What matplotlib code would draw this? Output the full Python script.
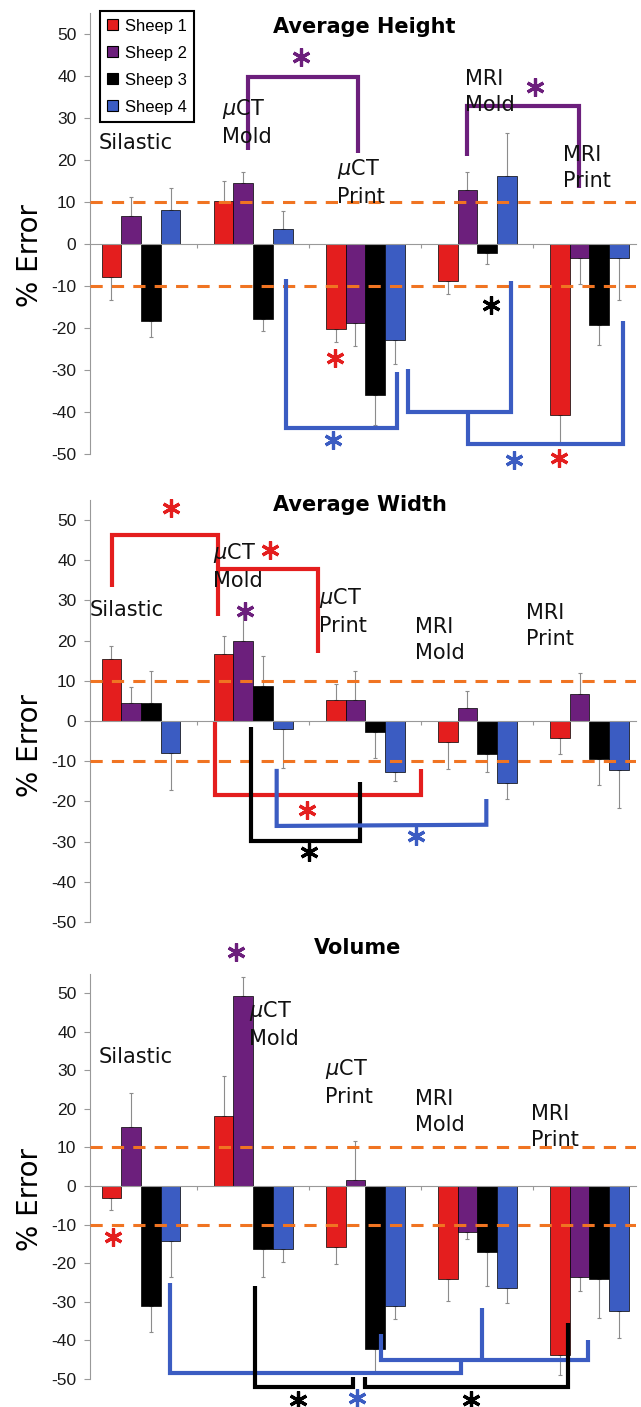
import numpy as np
import matplotlib
matplotlib.use("Agg")
import matplotlib.pyplot as plt
from matplotlib.patches import Patch

plt.rcParams["font.family"] = ["DejaVu Sans"]

# ---- data -------------------------------------------------------------
categories = ["Silastic", "µCT Mold", "µCT Print", "MRI Mold", "MRI Print"]
cat_labels = ["Silastic", "$\\mu$CT\nMold", "$\\mu$CT\nPrint", "MRI\nMold", "MRI\nPrint"]
sheep = ["Sheep 1", "Sheep 2", "Sheep 3", "Sheep 4"]
colors = {"red": "#E41E1E", "purple": "#6C1F7C", "black": "#000000", "blue": "#3B5CC2"}
sheep_colors = ["red", "purple", "black", "blue"]

height_vals = [
    [-7.9, 10.3, -20.3, -8.7, -40.7],
    [6.6, 14.5, -18.7, 12.8, -3.4],
    [-18.4, -17.8, -36.0, -2.1, -19.4],
    [8.2, 3.6, -22.9, 16.3, -3.4],
]
height_errs = [
    [5.5, 4.6, 3.0, 3.2, 6.8],
    [4.7, 2.6, 5.6, 4.3, 6.1],
    [3.8, 2.8, 7.0, 2.6, 4.6],
    [5.1, 4.2, 5.6, 10.1, 10.0],
]

width_vals = [
    [15.4, 16.6, 5.2, -5.2, -4.2],
    [4.6, 20.0, 5.2, 3.2, 6.8],
    [4.4, 8.8, -2.7, -8.1, -9.4],
    [-7.9, -2.1, -12.6, -15.4, -12.3],
]
width_errs = [
    [3.3, 4.6, 4.1, 6.8, 3.9],
    [3.9, 8.0, 7.2, 4.3, 5.2],
    [8.1, 7.4, 6.4, 4.5, 6.4],
    [9.3, 9.7, 2.2, 4.1, 9.3],
]

volume_vals = [
    [-3.2, 18.0, -15.8, -24.1, -43.7],
    [15.2, 49.1, 1.6, -11.9, -23.5],
    [-31.2, -16.3, -42.3, -17.1, -24.1],
    [-14.3, -16.3, -31.0, -26.4, -32.3],
]
volume_errs = [
    [3.1, 10.4, 4.5, 5.8, 5.2],
    [9.0, 5.1, 10.1, 1.8, 3.8],
    [6.5, 7.2, 6.1, 8.7, 10.0],
    [9.2, 3.4, 3.5, 3.8, 7.0],
]

tolerance = [10, -10]

# category label anchors (left x in category units, centre y in % error)
height_label_pos = [(-0.375, 24), (0.72, 29), (1.75, 14.8), (2.89, 36.2), (3.76, 18.1)]
width_label_pos = [(-0.46, 27.6), (0.64, 38.6), (1.59, 27.4), (2.44, 20.1), (3.43, 23.6)]
volume_label_pos = [(-0.38, 33.4), (0.96, 42), (1.64, 27), (2.44, 19.2), (3.48, 15.3)]

# significance brackets: (colour, x path, y path) and asterisks (colour, x, y)
height_brackets = [
    ("purple", [0.955, 0.955, 1.936, 1.936], [22.5, 39.8, 39.8, 21.7]),
    ("purple", [2.91, 2.91, 3.91, 3.91], [20.9, 32.8, 32.8, 13.3]),
    ("blue", [1.295, 1.295, 2.28, 2.28], [-8.3, -43.8, -43.8, -30.5]),
    ("blue", [2.38, 2.38, 3.30, 3.30], [-29.8, -40, -40, -8.8]),
    ("blue", [2.92, 2.92, 4.30, 4.30], [-40, -47.6, -47.6, -18.4]),
]
height_stars = [("purple", 1.43, 44.5), ("purple", 3.51, 37.4), ("red", 1.73, -27.1),
                ("blue", 1.71, -46.7), ("black", 3.12, -14.5), ("blue", 3.33, -51.4),
                ("red", 3.73, -51.0)]

width_brackets = [
    ("red", [-0.26, -0.26, 0.69, 0.69], [33.3, 46.3, 46.3, 26.1]),
    ("red", [0.69, 1.58, 1.58], [37.8, 37.8, 16.9]),
    ("red", [0.66, 0.66, 2.50, 2.50], [-0.3, -18.4, -18.4, -11.9]),
    ("black", [0.98, 0.98, 1.95, 1.95], [-1.5, -29.8, -29.8, -15.2]),
    ("blue", [1.21, 1.21, 3.08, 3.08], [-11.9, -26.1, -25.8, -19.4]),
]
width_stars = [("red", 0.27, 53.0), ("red", 1.15, 42.5), ("purple", 0.93, 27.4),
               ("red", 1.48, -22.1), ("blue", 2.45, -28.6), ("black", 1.50, -32.6)]

volume_brackets = [
    ("blue", [0.26, 0.26, 2.85, 2.85], [-25.1, -48.5, -48.5, -45]),
    ("blue", [2.14, 2.14, 3.99, 3.99], [-38.3, -45, -45, -39.9]),
    ("blue", [3.04, 3.04], [-31.6, -45]),
    ("black", [1.02, 1.02, 1.89, 1.89], [-25.9, -52, -52, -49.5]),
    ("black", [2.0, 2.0, 3.81, 3.81], [-49.5, -52, -52, -35.5]),
]
volume_stars = [("purple", 0.85, 60.6), ("red", -0.25, -13.2), ("black", 1.40, -55.4),
                ("blue", 1.93, -55.0), ("black", 2.94, -55.4)]

# ---- figure -------------------------------------------------------------
W, H = 641, 1407
fig = plt.figure(figsize=(W / 100, H / 100), dpi=100)
fig.patch.set_facecolor("white")

bar_w = 0.176


def px_axes(left, top, right, bottom):
    return fig.add_axes([left / W, 1 - bottom / H, (right - left) / W, (bottom - top) / H])


def draw_panel(ax, vals, errs, title, title_pos, label_pos, brackets, stars, ylab_y):
    x = np.arange(len(categories))
    for i in range(len(sheep)):
        v = np.array(vals[i])
        e = np.array(errs[i])
        xs = x + (i - 1.5) * bar_w
        ax.bar(xs, v, bar_w, color=colors[sheep_colors[i]], edgecolor="black",
               linewidth=0.5, zorder=2)
        lo = np.where(v < 0, e, 0)
        hi = np.where(v >= 0, e, 0)
        ax.errorbar(xs, v, yerr=[lo, hi], fmt="none", ecolor="#8c8c8c",
                    elinewidth=0.8, capsize=1.5, capthick=0.8, zorder=1)

    for t in tolerance:
        ax.axhline(t, color="#F07422", lw=2.2, dashes=(4, 3), zorder=3)

    for c, xs, ys in brackets:
        ax.plot(xs, ys, color=colors[c], lw=3, solid_joinstyle="miter",
                solid_capstyle="butt", zorder=4, clip_on=False)
    for c, sx, sy in stars:
        ax.plot(sx, sy, marker=(6, 2, 0), ms=13, mew=2.3, color=colors[c],
                zorder=5, clip_on=False)

    for lab, (lx, ly) in zip(cat_labels, label_pos):
        ax.text(lx, ly, lab, ha="left", va="center", fontsize=15,
                linespacing=1.35, color="#111111", zorder=6)

    ax.text(title_pos[0], title_pos[1], title, ha="center", va="center",
            fontsize=15, fontweight="bold", clip_on=False)

    ax.set_xlim(-0.455, 4.415)
    ax.set_ylim(-50, 55)
    ax.set_yticks(range(-50, 51, 10))
    ax.set_yticklabels([str(v) for v in range(-50, 51, 10)],
                       family="Liberation Sans", fontsize=12.5, color="#1a1a1a")
    ax.tick_params(axis="y", length=4.3, width=0.8, color="#999999", pad=5.5)
    ax.set_xticks([0.5, 1.5, 2.5, 3.5])
    ax.set_xticklabels([])
    ax.tick_params(axis="x", length=3, width=0.8, color="#999999", direction="out")

    for s in ["top", "right"]:
        ax.spines[s].set_visible(False)
    ax.spines["left"].set_color("#999999")
    ax.spines["bottom"].set_color("#999999")
    ax.spines["bottom"].set_position(("data", 0))
    ax.spines["bottom"].set_zorder(2.5)
    ax.set_facecolor("none")

    ax.set_ylabel("% Error", fontsize=20)
    ax.yaxis.set_label_coords(-0.085, ylab_y)


ax1 = px_axes(90, 13, 636, 454)
draw_panel(ax1, height_vals, height_errs, "Average Height", (1.99, 51.7),
           height_label_pos, height_brackets, height_stars, 0.451)

handles = [Patch(facecolor=colors[c], edgecolor="black", linewidth=0.8, label=s)
           for s, c in zip(sheep, sheep_colors)]
leg = ax1.legend(handles=handles, loc="upper left", bbox_to_anchor=(0.0183, 1.0045),
                 borderaxespad=0, fancybox=False, framealpha=1, edgecolor="black",
                 prop={"family": "Liberation Sans", "size": 12},
                 handlelength=0.65, handleheight=0.65, handletextpad=0.4,
                 labelspacing=0.72, borderpad=0.45)
leg.get_frame().set_linewidth(1.5)
leg.set_zorder(10)

ax2 = px_axes(90, 500, 636, 922)
draw_panel(ax2, width_vals, width_errs, "Average Width", (1.95, 53.7),
           width_label_pos, width_brackets, width_stars, 0.419)

ax3 = px_axes(90, 973.6, 636, 1379)
draw_panel(ax3, volume_vals, volume_errs, "Volume", (1.93, 61.7),
           volume_label_pos, volume_brackets, volume_stars, 0.442)

fig.savefig("out.png", dpi=100)
